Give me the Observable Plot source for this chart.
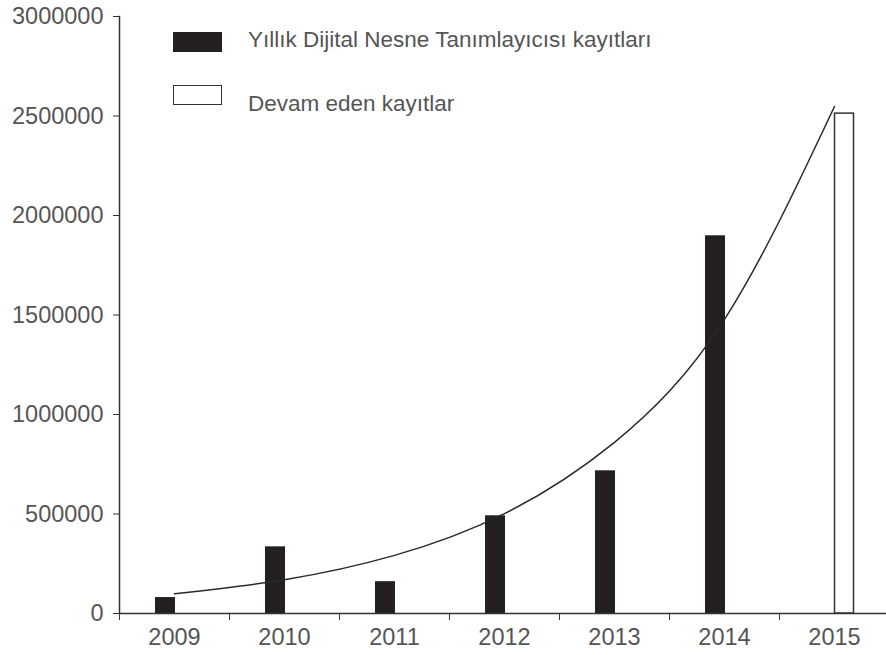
<!DOCTYPE html>
<html>
<head>
<meta charset="utf-8">
<script src="https://cdn.jsdelivr.net/npm/d3@7"></script>
<script src="https://cdn.jsdelivr.net/npm/@observablehq/plot@0.6"></script>
<style>
  html, body { margin: 0; padding: 0; background: white; }
  #chart { position: relative; width: 886px; height: 655px; overflow: hidden; font-family: "Liberation Sans", Arial, sans-serif; }
  .sw { position: absolute; left: 173px; width: 49px; height: 20px; box-sizing: border-box; }
  .lt { position: absolute; left: 248px; font-size: 22.5px; line-height: 22.5px; color: #555; white-space: nowrap; }
</style>
</head>
<body>
<div id="chart">
  <div class="sw" style="top:32px;background:#231f20;"></div>
  <div class="lt" style="top:29px;">Yıllık Dijital Nesne Tanımlayıcısı kayıtları</div>
  <div class="sw" style="top:85px;background:#fff;border:1.5px solid #333;"></div>
  <div class="lt" style="top:92.5px;">Devam eden kayıtlar</div>
</div>
<script>
// Data
const years = ["2009", "2010", "2011", "2012", "2013", "2014", "2015"];
const annualYears = ["2009", "2010", "2011", "2012", "2013", "2014"];
const annualValues = [80000, 335000, 160000, 491000, 717000, 1898000];
const ongoingYears = ["2015"];
const ongoingValues = [2512000];
const trendValues = [99000, 170000, 292000, 502000, 860000, 1478000, 2548000];
const yTicks = [0, 500000, 1000000, 1500000, 2000000, 2500000, 3000000];

const annual = annualYears.map((year, i) => ({year, value: annualValues[i]}));
const ongoing = ongoingYears.map((year, i) => ({year, value: ongoingValues[i]}));
const trend = years.map((year, i) => ({year, value: trendValues[i]}));

const plot = Plot.plot({
  width: 886,
  height: 655,
  marginLeft: 119,
  marginRight: -3,
  marginTop: 16,
  marginBottom: 42,
  style: {fontFamily: "'Liberation Sans', Arial, sans-serif", fontSize: "23.5px", color: "#555", background: "transparent", overflow: "visible"},
  x: {type: "band", domain: years, padding: 0, label: null},
  y: {domain: [0, 3000000], label: null},
  marks: [
    Plot.barY(annual, {x: "year", y: "value", fill: "#231f20", insetLeft: 36, insetRight: 54}),
    Plot.barY(ongoing, {x: "year", y: "value", fill: "white", stroke: "#333", strokeWidth: 1.5, insetLeft: 55.5, insetRight: 35.5}),
    Plot.line(trend, {x: "year", y: "value", curve: "natural", stroke: "#2a2a2a", strokeWidth: 1.5}),
    Plot.ruleY([0], {stroke: "#333", strokeWidth: 1.5}),
    Plot.frame({anchor: "left", stroke: "#333", strokeWidth: 1.5}),
    Plot.axisY({ticks: yTicks, tickSize: 6, tickPadding: 10, tickFormat: d => String(d), stroke: "#333", fill: "#555", label: null}),
    Plot.axisX({tickSize: 7, tickFormat: () => "", dx: -55, stroke: "#333", label: null}),
    Plot.axisX({tickSize: 0, tickPadding: 15, fill: "#555", label: null})
  ]
});
plot.style.position = "absolute";
plot.style.left = "0";
plot.style.top = "0";
document.getElementById("chart").prepend(plot);
</script>
</body>
</html>
